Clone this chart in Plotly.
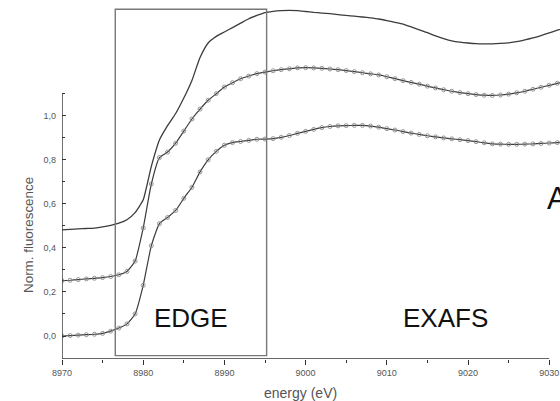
import plotly.graph_objects as go

energy = list(range(8970, 9033))

top_curve = [0.482, 0.484, 0.486, 0.488, 0.490, 0.495, 0.502, 0.512, 0.528, 0.560,
             0.618, 0.770, 0.890, 0.955, 1.010, 1.080, 1.160, 1.264, 1.330, 1.360,
             1.380, 1.400, 1.420, 1.440, 1.455, 1.468, 1.474, 1.477, 1.478, 1.477,
             1.473, 1.469, 1.466, 1.463, 1.459, 1.455, 1.452, 1.448, 1.444, 1.439,
             1.432, 1.424, 1.416, 1.403, 1.390, 1.377, 1.362, 1.350, 1.340, 1.334,
             1.330, 1.327, 1.326, 1.326, 1.328, 1.331, 1.336, 1.344, 1.353, 1.364,
             1.376, 1.388, 1.400]

middle_curve = [0.251, 0.253, 0.256, 0.259, 0.262, 0.265, 0.270, 0.278, 0.293, 0.340,
                0.490, 0.690, 0.810, 0.835, 0.875, 0.930, 0.985, 1.030, 1.070, 1.100,
                1.130, 1.150, 1.168, 1.180, 1.191, 1.198, 1.204, 1.209, 1.213, 1.217,
                1.218, 1.217, 1.215, 1.212, 1.209, 1.205, 1.200, 1.195, 1.190, 1.185,
                1.177, 1.168, 1.159, 1.151, 1.143, 1.134, 1.126, 1.118, 1.111, 1.105,
                1.100, 1.096, 1.093, 1.092, 1.094, 1.098, 1.104, 1.111, 1.120, 1.129,
                1.138, 1.147, 1.155]

bottom_curve = [0.000, 0.002, 0.004, 0.006, 0.008, 0.012, 0.022, 0.036, 0.055, 0.100,
                0.230, 0.410, 0.510, 0.538, 0.570, 0.625, 0.675, 0.745, 0.800, 0.838,
                0.866, 0.878, 0.883, 0.888, 0.893, 0.894, 0.896, 0.902, 0.910, 0.920,
                0.929, 0.938, 0.946, 0.951, 0.954, 0.955, 0.956, 0.956, 0.953, 0.948,
                0.941, 0.935, 0.928, 0.921, 0.915, 0.909, 0.904, 0.899, 0.895, 0.891,
                0.887, 0.882, 0.877, 0.872, 0.871, 0.870, 0.870, 0.871, 0.872, 0.874,
                0.876, 0.878, 0.880]

x_ticks = [8970, 8980, 8990, 9000, 9010, 9020, 9030]
x_minor = [8975, 8985, 8995, 9005, 9015, 9025]
y_ticks = [0.0, 0.2, 0.4, 0.6, 0.8, 1.0]
y_tick_labels = ["0,0", "0,2", "0,4", "0,6", "0,8", "1,0"]
y_minor = [0.1, 0.3, 0.5, 0.7, 0.9, 1.1]

edge_box = (8976.56, 8995.2, -0.089, 1.483)
region_labels = [("EDGE", 8985.86), ("EXAFS", 9017.27)]

X_RANGE = [8970, 9031.33]
Y_RANGE = [-0.1044, 1.5252]

LINE_COL = "#3c3c3c"
FONT = "Liberation Sans, Arial, sans-serif"

fig = go.Figure()
fig.add_trace(go.Scatter(x=energy, y=top_curve, mode="lines",
                         line=dict(color=LINE_COL, width=1.3, shape="spline", smoothing=0.5),
                         showlegend=False))
for series in (middle_curve, bottom_curve):
    fig.add_trace(go.Scatter(x=energy, y=series, mode="lines+markers",
                             line=dict(color=LINE_COL, width=1.2, shape="spline", smoothing=0.5),
                             marker=dict(symbol="circle-open", size=4, color="#8a8a8a",
                                         line=dict(width=0.9, color="#8a8a8a")),
                             showlegend=False))

# edge box
fig.add_shape(type="rect", xref="x", yref="y",
              x0=edge_box[0], x1=edge_box[1], y0=edge_box[2], y1=edge_box[3],
              line=dict(color="#777777", width=1.4), layer="above")
# axis lines
fig.add_shape(type="line", xref="x", yref="y", x0=x_ticks[0], x1=x_ticks[-1],
              y0=Y_RANGE[0], y1=Y_RANGE[0], line=dict(color="#333333", width=1.4))
fig.add_shape(type="line", xref="x", yref="y", x0=X_RANGE[0], x1=X_RANGE[0],
              y0=Y_RANGE[0], y1=y_minor[-1], line=dict(color="#333333", width=1.4))

for txt, xv in region_labels:
    fig.add_annotation(x=xv, y=0.0803, xref="x", yref="y", text=txt, showarrow=False,
                       xanchor="center", yanchor="middle",
                       font=dict(family=FONT, size=26, color="#111111"))
fig.add_annotation(x=9029.52, y=0.626, xref="x", yref="y", text="A", showarrow=False,
                   xanchor="left", yanchor="middle",
                   font=dict(family=FONT, size=31, color="#111111"))
fig.add_annotation(x=-0.0683, y=0.3454, xref="paper", yref="paper",
                   text="Norm. fluorescence", showarrow=False, textangle=-90,
                   xanchor="center", yanchor="middle",
                   font=dict(family=FONT, size=13.4, color="#555555"))
fig.add_annotation(x=0.4785, y=-0.0947, xref="paper", yref="paper",
                   text="energy (eV)", showarrow=False,
                   xanchor="center", yanchor="middle",
                   font=dict(family=FONT, size=14, color="#555555"))

fig.update_layout(
    width=560, height=401,
    margin=dict(l=62, r=0, t=0, b=42),
    paper_bgcolor="white", plot_bgcolor="white",
    xaxis=dict(range=X_RANGE, showgrid=False, zeroline=False, showline=False,
               tickmode="array", tickvals=x_ticks, ticktext=[str(v) for v in x_ticks],
               ticks="outside", ticklen=5, tickwidth=1, tickcolor="#333333",
               tickfont=dict(family=FONT, size=9, color="#555555"),
               minor=dict(tickvals=x_minor, ticks="outside", ticklen=3, tickcolor="#333333")),
    yaxis=dict(range=Y_RANGE, showgrid=False, zeroline=False, showline=False,
               tickmode="array", tickvals=y_ticks, ticktext=y_tick_labels,
               ticks="inside", ticklen=4, tickwidth=1, tickcolor="#333333",
               ticklabelstandoff=5,
               tickfont=dict(family=FONT, size=9, color="#555555"),
               minor=dict(tickvals=y_minor, ticks="inside", ticklen=3, tickcolor="#333333")),
)

fig.write_html("out.html")
